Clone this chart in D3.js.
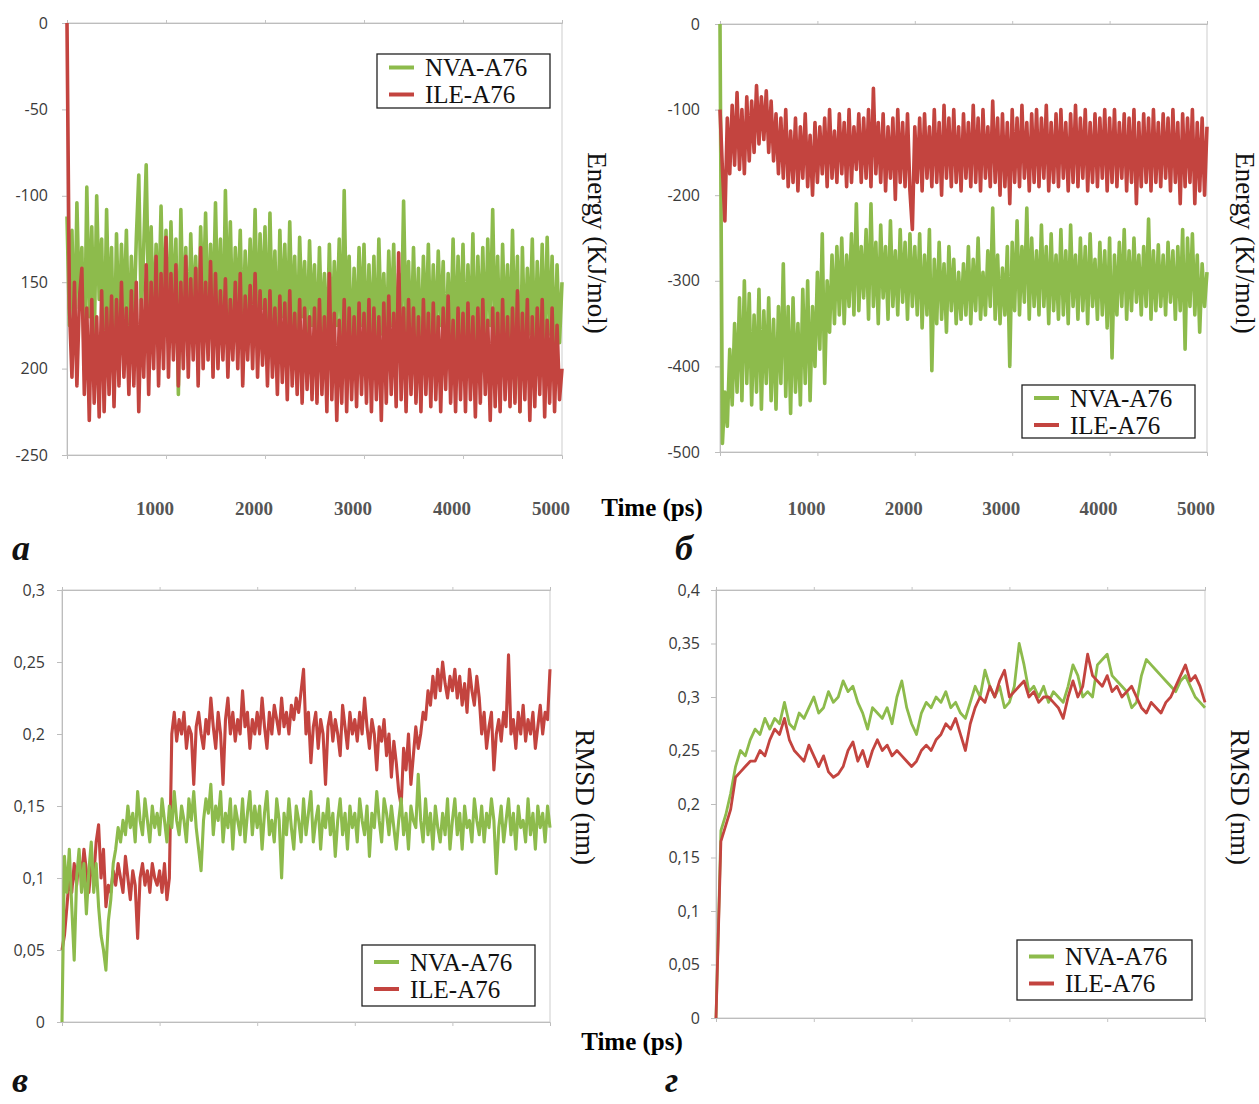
<!DOCTYPE html>
<html>
<head>
<meta charset="utf-8">
<script src="https://cdn.jsdelivr.net/npm/d3@7"></script>
<style>
  body { margin: 0; background: #fff; }
</style>
</head>
<body>
<script>
// time axis (ps), all four runs go 0..5000
var timeTicks = [1000, 2000, 3000, 4000, 5000];
var seriesNames = ["NVA-A76", "ILE-A76"];

// a) interaction energy, kJ/mol, one value every 25 ps
var energyTicksA = [0, -50, -100, -150, -200, -250];
var energyLabelsA = ["0", "-50", "-100", "150", "200", "-250"];
var nvaEnergyA = [
  -112, -175, -120, -190, -104, -165, -130, -200, -95, -170, -118, -185, -100, -160, -125, -195, -108, -175, -130, -205,
  -122, -180, -128, -170, -120, -190, -135, -175, -125, -88, -170, -130, -82, -165, -118, -180, -128, -170, -106, -175,
  -120, -185, -115, -170, -125, -215, -108, -175, -130, -190, -122, -170, -135, -185, -118, -165, -110, -180, -128, -170,
  -104, -175, -125, -190, -97, -170, -115, -180, -130, -165, -120, -185, -132, -175, -125, -170, -108, -180, -122, -165,
  -118, -185, -110, -175, -132, -190, -120, -170, -128, -180, -115, -175, -135, -190, -124, -170, -138, -185, -126, -175,
  -140, -190, -130, -180, -145, -195, -128, -185, -138, -175, -125, -190, -97, -180, -135, -195, -142, -185, -130, -175,
  -128, -190, -140, -185, -135, -195, -125, -180, -145, -190, -132, -175, -128, -195, -145, -185, -103, -180, -138, -190,
  -130, -185, -142, -195, -135, -180, -128, -190, -140, -185, -132, -175, -138, -195, -145, -185, -125, -190, -135, -180,
  -128, -190, -140, -185, -122, -195, -135, -180, -130, -190, -125, -175, -108, -185, -135, -195, -128, -180, -140, -190,
  -120, -185, -135, -225, -130, -190, -142, -180, -125, -195, -138, -185, -128, -190, -124, -180, -135, -195, -140, -185,
  -150];
var ileEnergyA = [
  0, -165, -205, -150, -210, -160, -142, -215, -165, -230, -160, -220, -170, -228, -155, -225, -165, -215, -158, -222,
  -160, -210, -150, -205, -165, -215, -155, -210, -150, -225, -160, -205, -140, -215, -150, -200, -135, -210, -145, -200,
  -124, -205, -145, -195, -140, -210, -150, -200, -135, -205, -148, -195, -142, -210, -130, -200, -150, -195, -138, -205,
  -145, -200, -155, -195, -148, -205, -160, -195, -150, -200, -145, -210, -158, -195, -152, -200, -145, -205, -155, -198,
  -160, -210, -155, -205, -165, -215, -158, -208, -162, -218, -155, -210, -168, -215, -160, -220, -165, -212, -170, -218,
  -165, -220, -160, -215, -170, -225, -145, -218, -168, -230, -172, -220, -160, -225, -165, -218, -170, -222, -162, -215,
  -168, -220, -160, -225, -165, -218, -170, -230, -162, -220, -158, -215, -168, -222, -133, -218, -165, -225, -160, -215,
  -165, -220, -170, -225, -160, -215, -168, -222, -162, -218, -170, -225, -165, -212, -158, -220, -172, -225, -165, -218,
  -168, -225, -162, -218, -170, -228, -165, -220, -160, -215, -172, -230, -165, -222, -168, -225, -160, -218, -170, -222,
  -165, -220, -155, -225, -168, -218, -160, -230, -170, -222, -165, -215, -160, -228, -172, -220, -165, -225, -175, -218,
  -200];

// б) interaction energy, kJ/mol, every 25 ps
var energyTicksB = [0, -100, -200, -300, -400, -500];
var energyLabelsB = ["0", "-100", "-200", "-300", "-400", "-500"];
var nvaEnergyB = [
  0, -490, -430, -470, -380, -445, -350, -430, -320, -440, -300, -420, -315, -445, -340, -430, -310, -450, -335, -420,
  -320, -440, -345, -450, -330, -420, -280, -435, -330, -455, -320, -430, -350, -445, -310, -420, -300, -440, -330, -400,
  -290, -380, -245, -420, -300, -360, -270, -350, -260, -340, -250, -350, -270, -330, -245, -340, -210, -335, -260, -320,
  -240, -345, -210, -330, -255, -350, -235, -320, -260, -345, -230, -330, -265, -340, -240, -325, -255, -345, -245, -330,
  -260, -340, -245, -355, -270, -340, -240, -405, -275, -350, -255, -345, -280, -360, -260, -335, -275, -350, -290, -345,
  -280, -340, -260, -350, -275, -335, -250, -345, -290, -340, -265, -330, -215, -345, -270, -350, -285, -340, -260, -400,
  -255, -335, -230, -340, -260, -325, -215, -345, -250, -330, -265, -340, -235, -330, -260, -350, -245, -335, -270, -345,
  -240, -340, -265, -350, -235, -330, -270, -345, -250, -335, -260, -350, -245, -330, -275, -345, -255, -340, -265, -355,
  -250, -390, -270, -340, -255, -330, -240, -345, -265, -335, -250, -325, -270, -340, -260, -330, -228, -345, -265, -335,
  -258, -330, -270, -340, -255, -325, -265, -345, -260, -335, -240, -380, -250, -330, -245, -340, -270, -360, -280, -330,
  -290];
var ileEnergyB = [
  -100, -170, -230, -110, -175, -95, -165, -80, -170, -100, -175, -85, -160, -90, -150, -72, -140, -85, -135, -78,
  -150, -90, -160, -105, -175, -110, -180, -100, -190, -125, -185, -110, -195, -120, -180, -105, -190, -130, -200, -115,
  -185, -120, -175, -110, -190, -100, -180, -125, -185, -105, -175, -115, -190, -100, -185, -120, -170, -105, -185, -110,
  -180, -100, -190, -75, -175, -115, -185, -105, -195, -120, -180, -110, -205, -100, -185, -115, -190, -105, -195, -240,
  -120, -185, -110, -195, -105, -180, -120, -190, -100, -185, -115, -200, -95, -180, -110, -190, -100, -185, -120, -195,
  -105, -180, -115, -190, -95, -185, -110, -195, -100, -180, -120, -190, -90, -185, -110, -200, -105, -190, -115, -210,
  -100, -185, -110, -190, -95, -180, -115, -195, -105, -185, -100, -190, -110, -180, -95, -195, -115, -185, -105, -190,
  -100, -180, -115, -195, -105, -185, -95, -190, -110, -180, -100, -195, -115, -185, -105, -190, -110, -180, -100, -195,
  -110, -185, -100, -190, -115, -180, -105, -195, -110, -185, -100, -210, -115, -190, -105, -185, -110, -195, -100, -185,
  -115, -190, -105, -180, -110, -195, -100, -185, -115, -210, -105, -190, -110, -185, -100, -210, -115, -195, -110, -200,
  -120];

// в) RMSD, nm, every 25 ps
var rmsdTicksC = [0, 0.05, 0.1, 0.15, 0.2, 0.25, 0.3];
var rmsdLabelsC = ["0", "0,05", "0,1", "0,15", "0,2", "0,25", "0,3"];
var nvaRmsdC = [
  0, 0.115, 0.09, 0.12, 0.08, 0.043, 0.10, 0.12, 0.09, 0.11, 0.075, 0.105, 0.125, 0.09, 0.11, 0.08, 0.06, 0.05, 0.036, 0.07,
  0.085, 0.11, 0.12, 0.135, 0.125, 0.14, 0.13, 0.15, 0.135, 0.145, 0.125, 0.16, 0.14, 0.13, 0.155, 0.14, 0.125, 0.15, 0.135, 0.145,
  0.13, 0.155, 0.14, 0.125, 0.15, 0.135, 0.16, 0.14, 0.13, 0.15, 0.14, 0.125, 0.155, 0.14, 0.16, 0.135, 0.12, 0.105, 0.14, 0.155,
  0.145, 0.165, 0.13, 0.15, 0.14, 0.16, 0.125, 0.145, 0.135, 0.155, 0.12, 0.15, 0.14, 0.13, 0.155, 0.125, 0.145, 0.16, 0.13, 0.15,
  0.135, 0.15, 0.12, 0.145, 0.16, 0.13, 0.14, 0.125, 0.155, 0.14, 0.10, 0.145, 0.13, 0.155, 0.135, 0.12, 0.15, 0.14, 0.125, 0.155,
  0.13, 0.145, 0.16, 0.125, 0.14, 0.15, 0.12, 0.145, 0.135, 0.155, 0.13, 0.145, 0.115, 0.14, 0.155, 0.13, 0.145, 0.12, 0.15, 0.135,
  0.145, 0.125, 0.155, 0.14, 0.13, 0.15, 0.115, 0.145, 0.135, 0.16, 0.14, 0.125, 0.155, 0.145, 0.13, 0.15, 0.135, 0.12, 0.14, 0.155,
  0.13, 0.145, 0.12, 0.15, 0.14, 0.135, 0.172, 0.14, 0.125, 0.155, 0.13, 0.145, 0.12, 0.15, 0.135, 0.125, 0.145, 0.13, 0.155, 0.12,
  0.14, 0.155, 0.13, 0.145, 0.12, 0.15, 0.135, 0.14, 0.125, 0.155, 0.14, 0.13, 0.15, 0.125, 0.145, 0.135, 0.155, 0.14, 0.103, 0.135,
  0.15, 0.125, 0.14, 0.155, 0.13, 0.145, 0.12, 0.15, 0.135, 0.14, 0.125, 0.155, 0.13, 0.145, 0.12, 0.15, 0.135, 0.145, 0.125, 0.15,
  0.135];
var ileRmsdC = [
  0.05, 0.06, 0.08, 0.1, 0.09, 0.11, 0.095, 0.115, 0.1, 0.12, 0.105, 0.09, 0.11, 0.1, 0.125, 0.137, 0.1, 0.12, 0.08, 0.095,
  0.09, 0.105, 0.095, 0.11, 0.1, 0.09, 0.115, 0.1, 0.085, 0.105, 0.095, 0.058, 0.1, 0.11, 0.095, 0.105, 0.09, 0.11, 0.1, 0.095,
  0.105, 0.09, 0.11, 0.085, 0.1, 0.2, 0.215, 0.195, 0.21, 0.2, 0.215, 0.19, 0.205, 0.2, 0.165, 0.205, 0.215, 0.2, 0.19, 0.21,
  0.2, 0.225, 0.205, 0.19, 0.215, 0.2, 0.165, 0.21, 0.225, 0.2, 0.215, 0.195, 0.21, 0.2, 0.23, 0.205, 0.215, 0.19, 0.21, 0.2,
  0.215, 0.2, 0.225, 0.205, 0.19, 0.215, 0.2, 0.22, 0.21, 0.2, 0.225, 0.205, 0.215, 0.2, 0.22, 0.21, 0.225, 0.215, 0.23, 0.245,
  0.2, 0.215, 0.18, 0.205, 0.215, 0.19, 0.21, 0.2, 0.165, 0.205, 0.215, 0.195, 0.21, 0.2, 0.185, 0.22, 0.205, 0.19, 0.215, 0.2,
  0.21, 0.195, 0.215, 0.2, 0.225, 0.205, 0.19, 0.21, 0.2, 0.175, 0.205, 0.195, 0.21, 0.185, 0.2, 0.17, 0.195, 0.18, 0.16, 0.15,
  0.19, 0.175, 0.2, 0.165, 0.185, 0.205, 0.19, 0.2, 0.215, 0.21, 0.23, 0.22, 0.24, 0.225, 0.245, 0.23, 0.25, 0.235, 0.225, 0.24,
  0.23, 0.245, 0.225, 0.24, 0.22, 0.235, 0.215, 0.245, 0.23, 0.22, 0.24, 0.225, 0.2, 0.215, 0.19, 0.205, 0.215, 0.175, 0.2, 0.21,
  0.195, 0.215, 0.205, 0.255, 0.2, 0.21, 0.19, 0.215, 0.2, 0.22, 0.195, 0.21, 0.2, 0.215, 0.19, 0.205, 0.22, 0.2, 0.215, 0.21,
  0.245];

// г) RMSD, nm, every 50 ps
var rmsdTicksD = [0, 0.05, 0.1, 0.15, 0.2, 0.25, 0.3, 0.35, 0.4];
var rmsdLabelsD = ["0", "0,05", "0,1", "0,15", "0,2", "0,25", "0,3", "0,35", "0,4"];
var nvaRmsdD = [
  0, 0.175, 0.19, 0.21, 0.235, 0.25, 0.245, 0.26, 0.27, 0.265,
  0.28, 0.27, 0.28, 0.275, 0.295, 0.275, 0.27, 0.285, 0.28, 0.29,
  0.30, 0.285, 0.29, 0.305, 0.295, 0.30, 0.315, 0.305, 0.31, 0.295,
  0.285, 0.27, 0.29, 0.285, 0.28, 0.29, 0.275, 0.30, 0.315, 0.29,
  0.275, 0.265, 0.285, 0.295, 0.29, 0.30, 0.295, 0.305, 0.29, 0.295,
  0.285, 0.28, 0.295, 0.31, 0.30, 0.325, 0.31, 0.30, 0.31, 0.29,
  0.295, 0.31, 0.35, 0.33, 0.305, 0.31, 0.30, 0.31, 0.295, 0.305,
  0.30, 0.295, 0.31, 0.33, 0.32, 0.30, 0.305, 0.30, 0.33, 0.335,
  0.34, 0.32, 0.315, 0.31, 0.305, 0.29, 0.295, 0.32, 0.335, 0.33,
  0.325, 0.32, 0.315, 0.31, 0.305, 0.315, 0.32, 0.31, 0.30, 0.295,
  0.29];
var ileRmsdD = [
  0, 0.165, 0.18, 0.195, 0.225, 0.23, 0.235, 0.24, 0.24, 0.25,
  0.245, 0.26, 0.27, 0.265, 0.28, 0.26, 0.25, 0.245, 0.24, 0.255,
  0.245, 0.235, 0.245, 0.23, 0.225, 0.228, 0.235, 0.25, 0.258, 0.24,
  0.25, 0.235, 0.25, 0.26, 0.25, 0.255, 0.245, 0.25, 0.245, 0.24,
  0.235, 0.24, 0.25, 0.255, 0.25, 0.26, 0.265, 0.275, 0.27, 0.28,
  0.265, 0.25, 0.275, 0.29, 0.30, 0.295, 0.31, 0.30, 0.315, 0.325,
  0.30, 0.305, 0.31, 0.315, 0.30, 0.305, 0.295, 0.30, 0.30, 0.295,
  0.29, 0.28, 0.30, 0.315, 0.30, 0.31, 0.34, 0.32, 0.315, 0.31,
  0.32, 0.305, 0.31, 0.30, 0.305, 0.31, 0.30, 0.29, 0.285, 0.295,
  0.29, 0.285, 0.295, 0.30, 0.31, 0.32, 0.33, 0.315, 0.32, 0.31,
  0.295];

var colors = ["#8dbb4c", "#c3443f"];   // NVA green, ILE red
var serif = "'Liberation Serif', 'Times New Roman', serif";
var narrow = "'Liberation Sans Narrow', 'Open Sans', sans-serif";

var svg = d3.select("body")
  .append("svg")
  .attr("width", 1259)
  .attr("height", 1104);

function drawPanel(p) {
  var x = d3.scaleLinear().domain([0, 5000]).range([p.left, p.right]);
  var y = d3.scaleLinear().domain(p.yDomain).range([p.bottom, p.top]);

  // plot frame
  svg.append("rect")
    .attr("x", p.left).attr("y", p.top)
    .attr("width", p.right - p.left).attr("height", p.bottom - p.top)
    .attr("fill", "none").attr("stroke", "#cdcdcd");

  // y axis
  var ya = svg.append("g")
    .attr("transform", "translate(" + p.left + ",0)")
    .call(d3.axisLeft(y).tickValues(p.yTicks)
      .tickFormat(function (d, i) { return p.yLabels[i]; })
      .tickSize(5).tickPadding(p.pad));
  ya.select(".domain").attr("stroke", "#bdbdbd");
  ya.selectAll(".tick line").attr("stroke", "#bdbdbd");
  ya.selectAll(".tick text")
    .attr("font-family", narrow).attr("font-size", 16).attr("fill", "#3a3a3a");

  // small time ticks on bottom and top of the frame
  var xb = svg.append("g")
    .attr("transform", "translate(0," + p.bottom + ")")
    .call(d3.axisBottom(x).tickValues(timeTicks.slice(0, 4)).tickFormat("").tickSize(4));
  var xt = svg.append("g")
    .attr("transform", "translate(0," + p.top + ")")
    .call(d3.axisTop(x).tickValues(timeTicks.slice(0, 4)).tickFormat("").tickSize(3));
  [xb, xt].forEach(function (a) {
    a.select(".domain").attr("stroke", "#bdbdbd");
    a.selectAll(".tick line").attr("stroke", "#c4c4c4");
  });

  // time labels (only under the energy plots)
  if (p.timeLabels) {
    svg.append("g").selectAll("text")
      .data(timeTicks)
      .enter()
      .append("text")
      .attr("x", function (d) { return x(d) - 11; })
      .attr("y", 515)
      .attr("text-anchor", "middle")
      .attr("font-family", serif).attr("font-weight", "bold")
      .attr("font-size", 19).attr("fill", "#555")
      .text(function (d) { return d; });
  }

  // series
  p.order.forEach(function (k) {
    var vals = p.values[k];
    var step = 5000 / (vals.length - 1);
    var line = d3.line()
      .x(function (d, i) { return x(i * step); })
      .y(function (d) { return y(d); });
    svg.append("path")
      .datum(vals)
      .attr("d", line)
      .attr("fill", "none")
      .attr("stroke", colors[k])
      .attr("stroke-width", p.lw)
      .attr("stroke-linejoin", "round");
  });

  // legend box
  var lg = svg.append("g")
    .attr("transform", "translate(" + p.legend[0] + "," + p.legend[1] + ")");
  lg.append("rect")
    .attr("width", p.legend[2]).attr("height", p.legend[3])
    .attr("fill", "#fff").attr("stroke", "#222").attr("stroke-width", 1.3);
  seriesNames.forEach(function (name, i) {
    var cy = p.legend[3] / 2 + (i - 0.5) * 27;
    lg.append("line")
      .attr("x1", 12).attr("x2", 37).attr("y1", cy).attr("y2", cy)
      .attr("stroke", colors[i]).attr("stroke-width", 4);
    lg.append("text")
      .attr("x", 48).attr("y", cy).attr("dy", "0.35em")
      .attr("font-family", serif).attr("font-size", 25).attr("fill", "#111")
      .text(name);
  });

  // rotated y title on the right
  svg.append("text")
    .text(p.yTitle)
    .attr("transform", "translate(" + p.titleX + "," + p.titleY + ") rotate(90)")
    .attr("text-anchor", "middle").attr("dy", "0.35em")
    .attr("font-family", serif).attr("font-size", 27).attr("fill", "#111");

  // panel letter
  svg.append("text")
    .text(p.letter)
    .attr("x", p.letterPos[0]).attr("y", p.letterPos[1])
    .attr("font-family", serif).attr("font-weight", "bold").attr("font-style", "italic")
    .attr("font-size", 36).attr("fill", "#111");
}

drawPanel({
  left: 67, right: 562, top: 23, bottom: 455,
  yDomain: [-250, 0], yTicks: energyTicksA, yLabels: energyLabelsA, pad: 14,
  values: [nvaEnergyA, ileEnergyA], order: [0, 1], lw: 3.6, timeLabels: true,
  legend: [377, 54, 173, 54], yTitle: "Energy (KJ/mol)", titleX: 597, titleY: 243,
  letter: "а", letterPos: [12, 560]
});
drawPanel({
  left: 720, right: 1207, top: 24, bottom: 452,
  yDomain: [-500, 0], yTicks: energyTicksB, yLabels: energyLabelsB, pad: 15,
  values: [nvaEnergyB, ileEnergyB], order: [0, 1], lw: 3.6, timeLabels: true,
  legend: [1022, 385, 173, 53], yTitle: "Energy (KJ/mol)", titleX: 1245, titleY: 243,
  letter: "б", letterPos: [675, 560]
});
drawPanel({
  left: 62, right: 550, top: 590, bottom: 1022,
  yDomain: [0, 0.3], yTicks: rmsdTicksC, yLabels: rmsdLabelsC, pad: 12,
  values: [nvaRmsdC, ileRmsdC], order: [1, 0], lw: 3.1, timeLabels: false,
  legend: [362, 945, 173, 61], yTitle: "RMSD (nm)", titleX: 585, titleY: 797,
  letter: "в", letterPos: [12, 1092]
});
drawPanel({
  left: 716, right: 1205, top: 590, bottom: 1018,
  yDomain: [0, 0.4], yTicks: rmsdTicksD, yLabels: rmsdLabelsD, pad: 11,
  values: [nvaRmsdD, ileRmsdD], order: [0, 1], lw: 2.8, timeLabels: false,
  legend: [1017, 940, 175, 60], yTitle: "RMSD (nm)", titleX: 1240, titleY: 797,
  letter: "г", letterPos: [665, 1092]
});

// shared time titles
svg.append("text")
  .text("Time (ps)")
  .attr("x", 652).attr("y", 516)
  .attr("text-anchor", "middle")
  .attr("font-family", serif).attr("font-weight", "bold").attr("font-size", 25);
svg.append("text")
  .text("Time (ps)")
  .attr("x", 632).attr("y", 1050)
  .attr("text-anchor", "middle")
  .attr("font-family", serif).attr("font-weight", "bold").attr("font-size", 25);
</script>
</body>
</html>
